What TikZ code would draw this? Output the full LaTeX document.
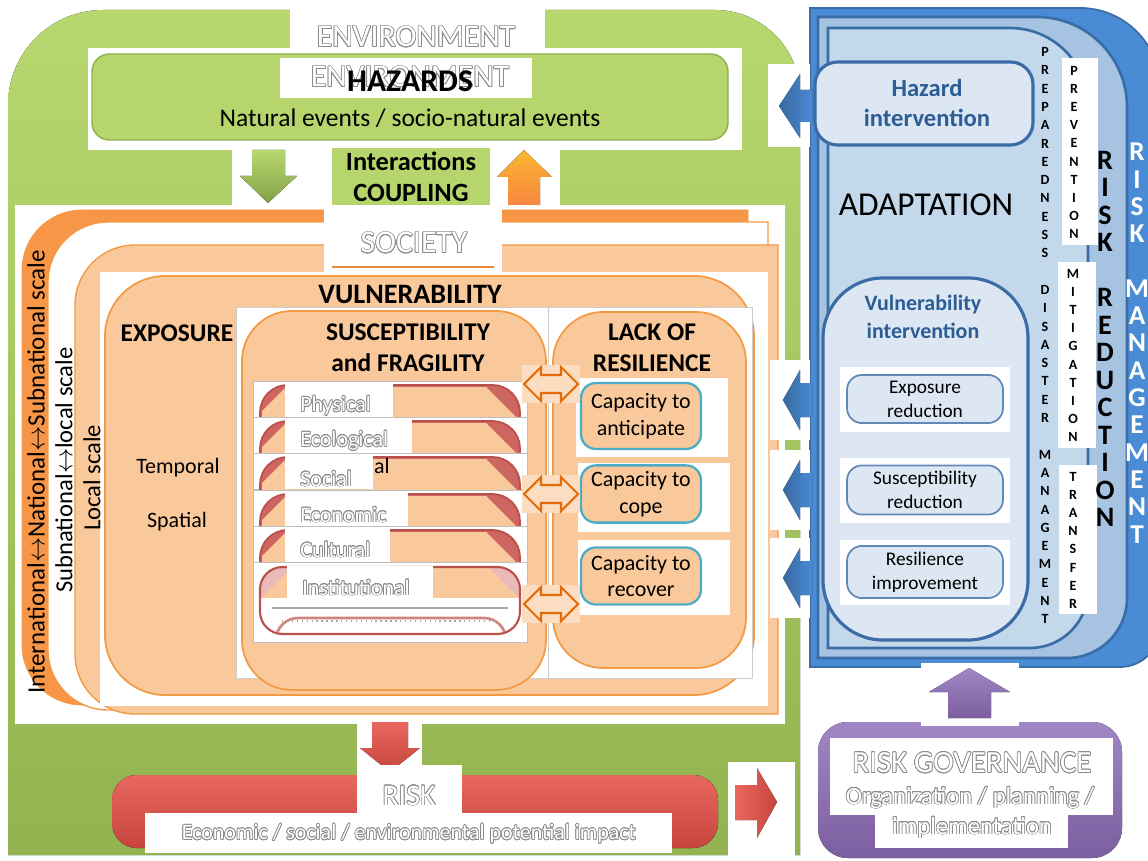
\documentclass[tikz,border=0pt]{standalone}
\usepackage{fontspec}
\setmainfont{Carlito}
\usepackage{contour}
\contourlength{0.4pt}
\usetikzlibrary{positioning, calc}

\definecolor{grnlight}{HTML}{B7D76F}
\definecolor{grndark}{HTML}{93B350}
\definecolor{grnbox}{HTML}{B6D66D}
\definecolor{grnedge}{HTML}{8FAE4E}
\definecolor{orgdark}{HTML}{F79646}
\definecolor{orgedge}{HTML}{F39A45}
\definecolor{orglight}{HTML}{FAC99B}
\definecolor{orgpale}{HTML}{FCDDC2}
\definecolor{orgline}{HTML}{E36C09}
\definecolor{redbar}{HTML}{B9504C}
\definecolor{redwedge}{HTML}{CD6560}
\definecolor{cyanedge}{HTML}{4BACC6}
\definecolor{bluedark}{HTML}{4A8BD5}
\definecolor{blueedge}{HTML}{3A6CA6}
\definecolor{bluemid}{HTML}{A6C3E2}
\definecolor{bluesoft}{HTML}{C4D8EC}
\definecolor{bluepale}{HTML}{DDE7F3}
\definecolor{bluetext}{HTML}{2C5D94}
\definecolor{purp}{HTML}{7B5E9F}
\definecolor{purplight}{HTML}{A187C6}
\definecolor{riskred}{HTML}{E8675E}
\definecolor{riskdark}{HTML}{C6453E}

\newcommand{\fsz}[2]{\fontsize{#1}{#2}\selectfont}
\newcommand{\hollow}[1]{\contour{black!45}{\color{white}#1}}

\begin{document}
\begin{tikzpicture}[x=0.02cm, y=-0.02cm,
    blank/.style={fill=white},
    txt/.style={inner sep=0pt, align=center},
    capbox/.style={draw=cyanedge, line width=1.3pt, fill=orglight, rounded corners=0.3cm},
    actbox/.style={draw=blueedge!80, line width=1pt, fill=bluepale, rounded corners=0.3cm},
    dblarrow/.style={fill=orgpale, draw=orgline, line width=1.2pt},
    colletter/.style={txt, font=\fsz{8}{8}\bfseries}
  ]
\useasboundingbox (0,0) rectangle (1148,861);

% environment panel
\fill[top color=grnlight, bottom color=grndark]
  (8,855) -- (8,105) arc[start angle=180, end angle=270, radius=95]
  -- (715,10) arc[start angle=270, end angle=360, radius=85] -- (800,855) -- cycle;
\fill[blank] (290,8) rectangle (545,52);
\node[txt, font=\fsz{18}{20}] (envtop) at (416,37) {\hollow{ENVIRONMENT}};

% hazards
\fill[blank] (88,48) rectangle (742,150);
\draw[fill=grnbox, draw=grnedge, line width=0.8pt, rounded corners=0.35cm] (92,54) rectangle (728,140);
\fill[blank] (280,58) rectangle (532,98);
\node[txt, font=\fsz{18}{20}] (envmid) at (410,77) {\hollow{ENVIRONMENT}};
\node[txt, font=\fsz{18}{20}\bfseries] (haz) at (410,81) {HAZARDS};
\node[txt, font=\fsz{14.5}{17}] (hazsub) at (410,118) {Natural events / socio-natural events};

% interactions
\fill[blank] (232,148) rectangle (332,207);
\fill[blank] (490,148) rectangle (560,207);
\fill[grnbox] (332,148) rectangle (490,205);
\node[txt, font=\fsz{15}{17.5}\bfseries] (inter) at (411,177) {Interactions\\COUPLING};
\fill[top color=grnlight, bottom color=grndark!90!black]
  (252,150) -- (285,150) -- (285,176) -- (297,176) -- (268,203) -- (240,176) -- (252,176) -- cycle;
\fill[top color=orgdark!70!yellow, bottom color=orgdark!90!red]
  (524,150) -- (552,177) -- (540,177) -- (540,205) -- (508,205) -- (508,177) -- (497,177) -- cycle;

% society, three scales
\fill[blank] (15,205) rectangle (785,724);
\draw[fill=orgdark, draw=orgedge] (748,210) -- (82,210) arc[start angle=270, end angle=180, radius=60]
  -- (22,645) arc[start angle=180, end angle=90, radius=60] -- (748,705) -- cycle;
\draw[fill=white, draw=orgedge, line width=0.8pt] (768,222) -- (108,222) arc[start angle=270, end angle=180, radius=60]
  -- (48,650) arc[start angle=180, end angle=90, radius=60] -- (768,710) -- cycle;
\draw[fill=orglight, draw=orgedge, line width=0.8pt] (778,245) -- (135,245) arc[start angle=270, end angle=180, radius=60]
  -- (75,654) arc[start angle=180, end angle=90, radius=60] -- (778,714) -- cycle;
\node[txt, rotate=90, font=\fsz{14.2}{16}] (scaleint) at (36,472) {International$\leftrightarrow$National$\leftrightarrow$Subnational scale};
\node[txt, rotate=90, font=\fsz{14}{16}] (scalesub) at (64,470) {Subnational$\leftrightarrow$local scale};
\fill[blank] (100,272) rectangle (768,706);
\node[txt, rotate=90, font=\fsz{14}{16}] (scaleloc) at (92,478) {Local scale};
\fill[blank] (324,207) rectangle (502,276);
\node[txt, font=\fsz{18}{20}] (soc) at (414,243) {\hollow{SOCIETY}};
\draw[orgline!80, line width=0.8pt] (332,267) -- (494,267);

% vulnerability
\draw[fill=orglight, draw=orgedge, line width=1pt, rounded corners=1.2cm] (105,276) rectangle (754,695);
\node[txt, font=\fsz{16}{18}\bfseries] (vul) at (410,294) {VULNERABILITY};
\node[txt, font=\fsz{14.5}{17}\bfseries] (expo) at (177,333) {EXPOSURE};
\node[txt, font=\fsz{12.5}{15}] (temporal) at (178,468) {Temporal};
\node[txt, font=\fsz{12.5}{15}] (spatial) at (177,522) {Spatial};
\draw[blank, draw=gray!40, line width=0.3pt] (236,307) rectangle (548,678);
\draw[blank, draw=gray!40, line width=0.3pt] (548,307) rectangle (752,678);

% susceptibility and fragility
\draw[fill=orglight, draw=orgedge, line width=1pt, rounded corners=1cm] (242,311) rectangle (546,690);
\node[txt, font=\fsz{14.5}{17.5}\bfseries] (susc) at (408,348) {SUSCEPTIBILITY\\and FRAGILITY};
\fill[blank] (253,381) rectangle (527,642);
\foreach \t/\rowname/\wr/\ly [count=\i] in {381/Physical/393/406, 417/Ecological/412/441,
    453/Social/373/479, 490/Economic/408/515, 526/Cultural/390/550}{
  \draw[blank, draw=gray!50, line width=0.4pt] (253,\t) rectangle (527,\t+36);
  \begin{scope}
    \clip (253,\t) rectangle (527,\t+36);
    \draw[fill=redwedge, draw=redbar, line width=1pt, rounded corners=0.55cm] (260,\t+4) rectangle (520,\t+70);
    \fill[orglight] (262,\t+30) -- (286,\t+6) -- (486,\t+6) -- (518,\t+38) -- (518,\t+70) -- (262,\t+70) -- cycle;
  \end{scope}
  \fill[blank] (285,\t+1) rectangle (\wr,\t+36);
  \node[txt, anchor=west, font=\fsz{12.5}{14}] (row\i) at (300,\ly) {\hollow{\rowname}};
}
\node[txt, font=\fsz{12.5}{14}] (socialtail) at (382,466) {al};
\draw[blank, draw=gray!50, line width=0.4pt] (253,562) rectangle (527,642);
\begin{scope}
  \clip[rounded corners=0.45cm] (260,567) rectangle (520,634);
  \fill[white] (260,567) rectangle (520,634);
  \fill[orglight] (260,567) rectangle (520,598);
  \fill[redwedge!45] (260,567) -- (292,567) -- (260,599) -- cycle;
  \fill[redwedge!45] (520,567) -- (488,567) -- (520,599) -- cycle;
  \draw[redbar!70, line width=1.5pt] (276,640) arc[start angle=180, end angle=270, radius=22] -- (484,618) arc[start angle=270, end angle=360, radius=22];
\end{scope}
\draw[redbar, line width=1.2pt, rounded corners=0.45cm] (260,567) rectangle (520,634);
\draw[gray!70, line width=0.8pt] (272,608) -- (508,608);
\draw[gray!70, line width=0.8pt, dotted] (282,621) -- (498,621);
\fill[blank] (287,566) rectangle (433,600);
\node[txt, anchor=west, font=\fsz{12.5}{14}] (row6) at (302,588) {\hollow{Institutional}};

% lack of resilience
\draw[fill=orglight, draw=orgedge, line width=1pt, rounded corners=1cm] (553,312) rectangle (746,668);
\node[txt, font=\fsz{14.5}{17.5}\bfseries] (lack) at (652,348) {LACK OF\\RESILIENCE};
\fill[blank] (576,378) rectangle (728,457);
\fill[blank] (578,463) rectangle (730,532);
\fill[blank] (578,540) rectangle (730,615);
\node[capbox, minimum width=120*0.02cm, minimum height=66*0.02cm, font=\fsz{12.5}{15.3}, align=center] (anticip) at (641,416) {Capacity to\\anticipate};
\node[capbox, minimum width=120*0.02cm, minimum height=57*0.02cm, font=\fsz{12.5}{15.3}, align=center] (cope) at (641,494) {Capacity to\\cope};
\node[capbox, minimum width=120*0.02cm, minimum height=57*0.02cm, font=\fsz{12.5}{15.3}, align=center] (recov) at (641,576) {Capacity to\\recover};
\foreach \y [count=\i] in {384,494,604}{
  \fill[orgpale] (522,\y-19) rectangle (580,\y+19);
  \draw[dblarrow] (524,\y) -- (541,\y-17) -- (541,\y-9) -- (561,\y-9) -- (561,\y-17) -- (578,\y)
    -- (561,\y+17) -- (561,\y+9) -- (541,\y+9) -- (541,\y+17) -- cycle;
}

% risk management panel
\draw[fill=bluedark, draw=blueedge, line width=1pt] (810,8) -- (1080,8) arc[start angle=270, end angle=360, radius=80]
  -- (1160,627) arc[start angle=0, end angle=90, radius=40] -- (810,667) -- cycle;
\draw[fill=bluemid, draw=blueedge, line width=1.5pt] (818,17) -- (1037,17) arc[start angle=270, end angle=360, radius=90]
  -- (1127,598) arc[start angle=0, end angle=90, radius=60] -- (818,658) -- cycle;
\draw[fill=bluesoft, draw=blueedge, line width=1.5pt] (828,28) -- (1010,28) arc[start angle=270, end angle=360, radius=78]
  -- (1088,590) arc[start angle=0, end angle=90, radius=58] -- (828,648) -- cycle;

\draw[fill=bluepale, draw=blueedge, line width=1.8pt, rounded corners=0.45cm] (815,62) rectangle (1033,145);
\node[txt, font=\fsz{14}{17.6}\bfseries, text=bluetext] (hazint) at (927,103) {Hazard\\intervention};
\node[txt, font=\fsz{19}{22}] (adapt) at (926,205) {ADAPTATION};
\draw[fill=bluepale, draw=blueedge, line width=1.8pt, rounded corners=1.2cm] (823,278) rectangle (1028,640);
\node[txt, font=\fsz{12.5}{15.9}\bfseries, text=bluetext] (vulint) at (923,317) {Vulnerability\\intervention};
\fill[blank] (840,367) rectangle (1010,432);
\fill[blank] (840,458) rectangle (1010,523);
\fill[blank] (840,540) rectangle (1010,605);
\node[actbox, minimum width=156*0.02cm, minimum height=46*0.02cm, font=\fsz{11}{13.6}, align=center] (exporeduc) at (925,399) {Exposure\\reduction};
\node[actbox, minimum width=156*0.02cm, minimum height=46*0.02cm, font=\fsz{11}{13.6}, align=center] (suscreduc) at (925,490) {Susceptibility\\reduction};
\node[actbox, minimum width=156*0.02cm, minimum height=46*0.02cm, font=\fsz{11}{13.6}, align=center] (resilimp) at (925,572) {Resilience\\improvement};

% letter columns
\foreach \l [count=\i from 0] in {P,R,E,P,A,R,E,D,N,E,S,S,{},D,I,S,A,S,T,E,R,{},M,A,N,A,G,E,M,E,N,T}
  \node[colletter] (prep\i) at (1045,52+18.3*\i) {\l};
\fill[blank] (1062,58) rectangle (1098,245);
\fill[blank] (1058,262) rectangle (1096,448);
\fill[blank] (1059,465) rectangle (1097,614);
\foreach \l [count=\i from 0] in {P,R,E,V,E,N,T,I,O,N}
  \node[colletter] (prev\i) at (1074,71+18.1*\i) {\l};
\foreach \l [count=\i from 0] in {M,I,T,I,G,A,T,I,O,N}
  \node[colletter] (mitig\i) at (1073,274+18.1*\i) {\l};
\foreach \l [count=\i from 0] in {T,R,A,N,S,F,E,R}
  \node[colletter] (trans\i) at (1073,477+18.1*\i) {\l};
\foreach \l [count=\i from 0] in {R,I,S,K,{},R,E,D,U,C,T,I,O,N}
  \node[txt, font=\fsz{16}{16}\bfseries] (red\i) at (1105,160+27.5*\i) {\l};
\foreach \l [count=\i from 0] in {R,I,S,K,{},M,A,N,A,G,E,M,E,N,T}
  \node[txt, font=\fsz{15.5}{16}\bfseries, text=white] (man\i) at (1137,152+27.3*\i) {\l};

% intervention arrows
\fill[blank] (768,64) rectangle (810,147);
\fill[left color=bluedark!75!black, right color=bluedark]
  (779,106) -- (800,74) -- (800,90) -- (812,90) -- (812,122) -- (800,122) -- (800,138) -- cycle;
\foreach \y in {400,490,578}{
  \fill[blank] (770,\y-40) rectangle (810,\y+40);
  \fill[left color=bluedark!75!black, right color=bluedark]
    (783,\y) -- (800,\y-30) -- (800,\y-17) -- (812,\y-17) -- (812,\y+17) -- (800,\y+17) -- (800,\y+30) -- cycle;
}

% risk
\fill[blank] (357,718) rectangle (422,768);
\fill[top color=riskred, bottom color=riskdark]
  (372,722) -- (408,722) -- (408,748) -- (420,748) -- (390,772) -- (360,748) -- (372,748) -- cycle;
\fill[top color=riskred, bottom color=riskdark, rounded corners=0.5cm] (112,775) rectangle (718,848);
\fill[blank] (357,765) rectangle (462,815);
\node[txt, font=\fsz{17}{20}] (risk) at (409,796) {\hollow{RISK}};
\fill[blank] (145,813) rectangle (672,853);
\node[txt, font=\fsz{12.5}{15}] (impact) at (409,834) {\hollow{Economic / social / environmental potential impact}};
\fill[blank] (728,762) rectangle (795,861);
\fill[left color=riskred, right color=riskdark]
  (735,785) -- (757,785) -- (757,768) -- (777,802) -- (757,838) -- (757,820) -- (735,820) -- cycle;

% risk governance
\fill[top color=purplight, bottom color=purp, rounded corners=0.6cm] (818,722) rectangle (1122,858);
\fill[blank] (830,738) rectangle (1113,815);
\fill[blank] (875,815) rectangle (1068,848);
\node[txt, font=\fsz{17.5}{19}] (gov) at (972,763) {\hollow{RISK GOVERNANCE}};
\node[txt, font=\fsz{14}{16}] (govsub) at (970,798) {\hollow{Organization / planning /}};
\node[txt, font=\fsz{14}{16}] (govimp) at (972,828) {\hollow{implementation}};
\fill[blank] (921,663) rectangle (1019,726);
\fill[top color=purplight, bottom color=purp]
  (969,668) -- (1010,692) -- (991,692) -- (991,718) -- (948,718) -- (948,692) -- (929,692) -- cycle;
\end{tikzpicture}
\end{document}
